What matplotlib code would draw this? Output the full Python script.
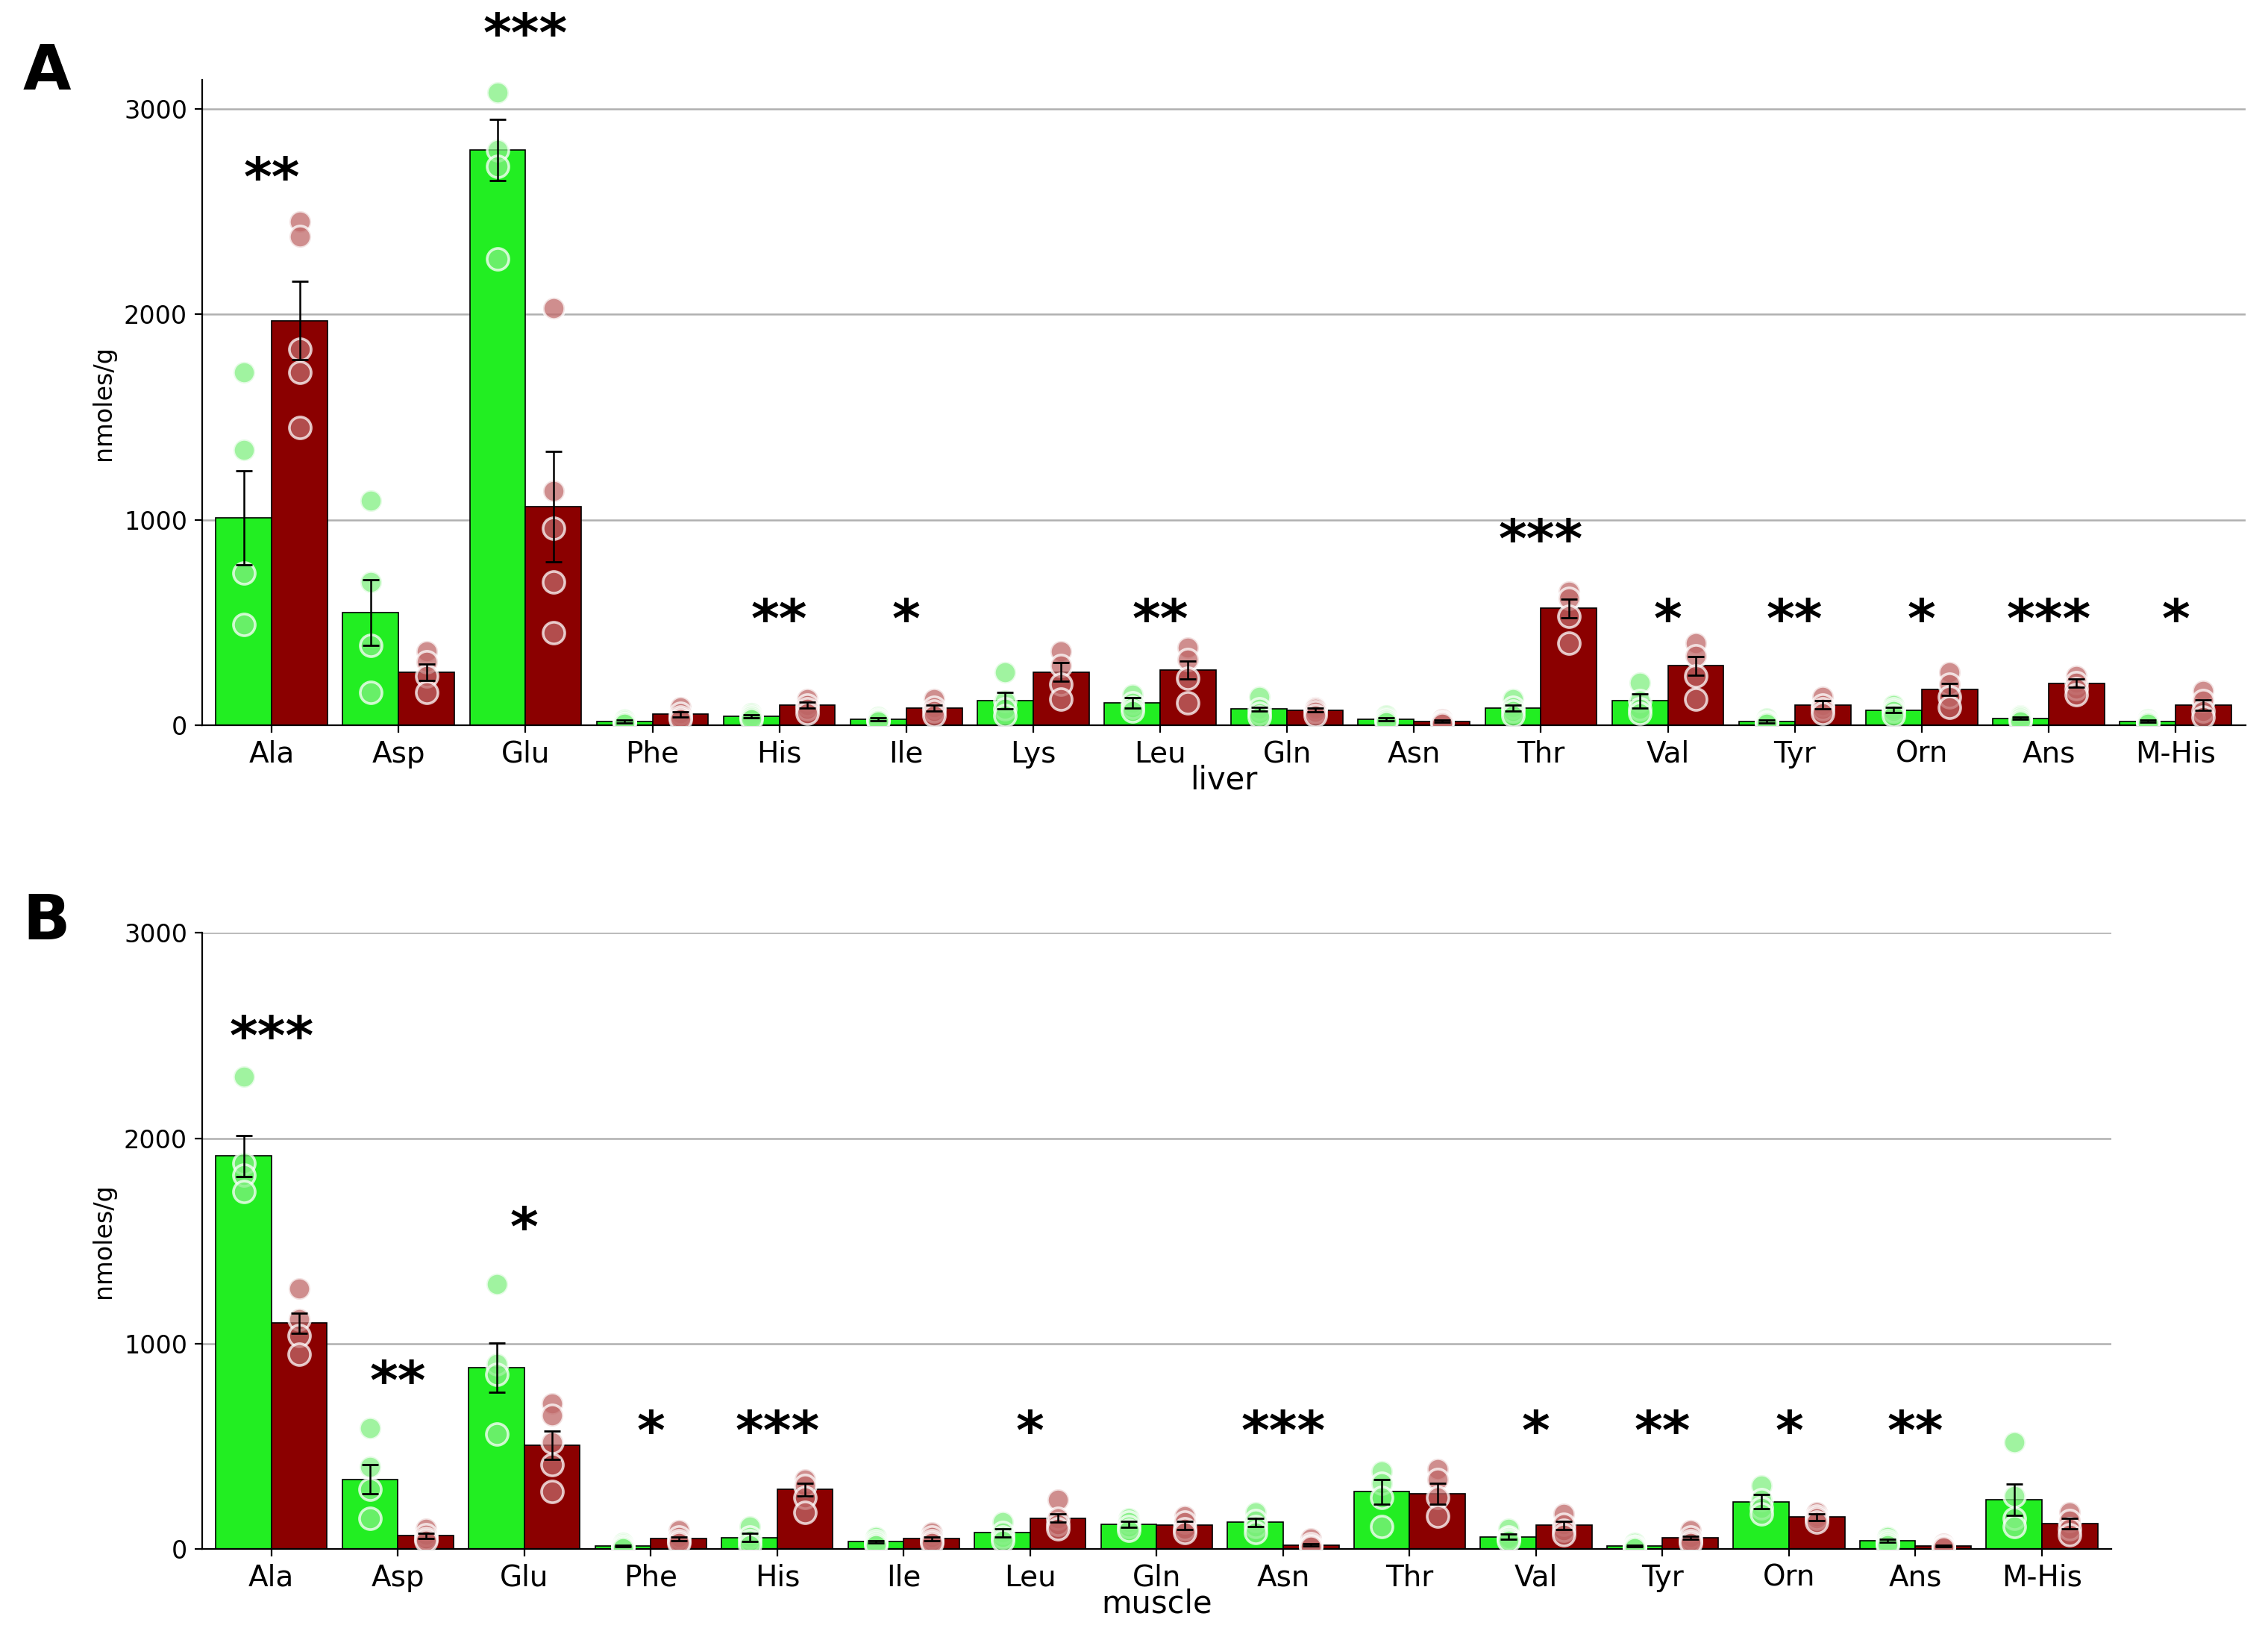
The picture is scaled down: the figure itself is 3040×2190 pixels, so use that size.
import matplotlib
matplotlib.use("Agg")
import matplotlib.pyplot as plt
import numpy as np

cats = ["Ala","Asp","Glu","Phe","His","Ile","Lys","Leu","Gln","Asn","Thr","Val","Tyr","Orn","Ans","M-His"]
cats_b = ["Ala","Asp","Glu","Phe","His","Ile","Leu","Gln","Asn","Thr","Val","Tyr","Orn","Ans","M-His"]

liver_g = [1010,550,2800,20,45,30,120,110,80,30,85,120,20,75,35,20]
liver_r = [1970,260,1065,55,100,85,260,270,75,20,570,290,100,175,205,100]
liver_g_sem = [230,160,150,8,8,6,40,25,10,6,15,35,6,12,6,5]
liver_r_sem = [190,40,270,12,15,15,45,45,10,5,45,45,20,30,20,25]
liver_g_pts = [[1720,1340,740,490],[1095,700,390,160],[3080,2800,2720,2270],[30,25,15,10],
               [60,50,40,30],[40,30,25,20],[260,120,80,50],[150,110,90,70],[140,80,60,40],
               [50,35,25,15],[130,90,70,50],[210,120,80,60],[35,20,15,10],[100,80,70,50],
               [50,40,30,20],[30,20,15,10]]
liver_r_pts = [[2450,2380,1830,1720,1450],[360,310,240,160],[2030,1140,960,700,450],[90,60,40,30],
               [130,100,80,60],[130,90,70,50],[360,290,200,130],[380,320,230,110],[90,80,65,50],
               [30,20,15,10],[650,620,530,400],[400,340,240,130],[140,100,80,60],[260,200,140,90],
               [240,210,180,150],[170,120,70,40]]
liver_stars = ["**","","***","","**","*","","**","","","***","*","**","*","***","*"]
liver_star_y = [2650,0,3350,0,500,500,0,500,0,0,890,500,500,500,500,500]

muscle_g = [1915,340,885,15,55,35,80,120,130,280,60,15,230,40,240]
muscle_r = [1100,65,505,50,290,50,150,115,20,270,115,55,155,15,125]
muscle_g_sem = [100,70,120,5,20,6,20,15,20,60,12,4,35,6,75]
muscle_r_sem = [50,12,70,8,30,8,20,20,5,50,20,8,15,3,25]
muscle_g_pts = [[2300,1880,1820,1740],[590,400,290,150],[1290,900,850,560],[30,20,10,5],
                [110,60,40,20],[60,40,30,20],[130,80,60,40],[150,130,110,90],[180,140,110,80],
                [380,320,250,110],[100,60,50,40],[30,15,10,5],[310,240,200,170],[60,40,30,20],
                [520,260,150,110]]
muscle_r_pts = [[1270,1120,1040,950],[100,70,50,40],[710,650,520,410,280],[90,60,40,30],
                [340,310,250,180],[80,60,40,30],[240,150,120,100],[160,130,100,80],[50,25,15,10],
                [390,340,250,160],[170,120,90,70],[90,60,40,30],[180,160,150,130],[25,15,10,8],
                [180,140,100,70]]
muscle_stars = ["***","**","*","*","***","","*","","***","","*","**","*","**",""]
muscle_star_y = [2480,800,1550,560,560,0,560,0,560,0,560,560,560,560,0]

GREEN = "#22ee22"; RED = "#8b0000"
GPT = "#80f080"; RPT = "#c06868"

fig = plt.figure(figsize=(15.2, 10.95), dpi=200)
axA = fig.add_axes([0.089, 0.556, 0.901, 0.395])
axB = fig.add_axes([0.089, 0.052, 0.842, 0.377])

def panel(ax, labels, g, r, gs, rs, gp, rp, stars, sy, xlabel, ytop):
    x = np.arange(len(labels))
    w = 0.44
    ax.set_axisbelow(True)
    ax.grid(axis="y", color="#b0b0b0", lw=0.9)
    ax.bar(x - w/2, g, w, color=GREEN, edgecolor="black", lw=0.6, zorder=2)
    ax.bar(x + w/2, r, w, color=RED, edgecolor="black", lw=0.6, zorder=2)
    ax.errorbar(x - w/2, g, yerr=gs, fmt="none", ecolor="black", capsize=4, lw=0.9, zorder=4)
    ax.errorbar(x + w/2, r, yerr=rs, fmt="none", ecolor="black", capsize=4, lw=0.9, zorder=4)
    for i in range(len(labels)):
        ax.scatter([x[i]-w/2]*len(gp[i]), gp[i], s=110, color=GPT, alpha=0.75,
                   edgecolors="white", linewidths=1.3, zorder=3)
        ax.scatter([x[i]+w/2]*len(rp[i]), rp[i], s=110, color=RPT, alpha=0.75,
                   edgecolors="white", linewidths=1.3, zorder=3)
        if stars[i]:
            ax.text(x[i], sy[i], stars[i], ha="center", va="center", fontsize=26,
                    fontweight="bold", zorder=5)
    ax.set_xticks(x)
    ax.set_xticklabels(labels, fontsize=14)
    ax.set_xlim(-0.55, len(labels)-0.45)
    ax.set_ylim(0, ytop)
    ax.set_yticks([0,1000,2000,3000])
    ax.tick_params(axis="y", labelsize=12)
    ax.set_ylabel("nmoles/g", fontsize=12)
    ax.set_xlabel(xlabel, fontsize=15, labelpad=-2)
    for s in ["top","right"]:
        ax.spines[s].set_visible(False)

panel(axA, cats, liver_g, liver_r, liver_g_sem, liver_r_sem, liver_g_pts, liver_r_pts,
      liver_stars, liver_star_y, "liver", 3140)
panel(axB, cats_b, muscle_g, muscle_r, muscle_g_sem, muscle_r_sem, muscle_g_pts, muscle_r_pts,
      muscle_stars, muscle_star_y, "muscle", 3000)

fig.text(0.01, 0.945, "A", fontsize=30, fontweight="bold")
fig.text(0.01, 0.425, "B", fontsize=30, fontweight="bold")
fig.savefig("out.png", dpi=200)
